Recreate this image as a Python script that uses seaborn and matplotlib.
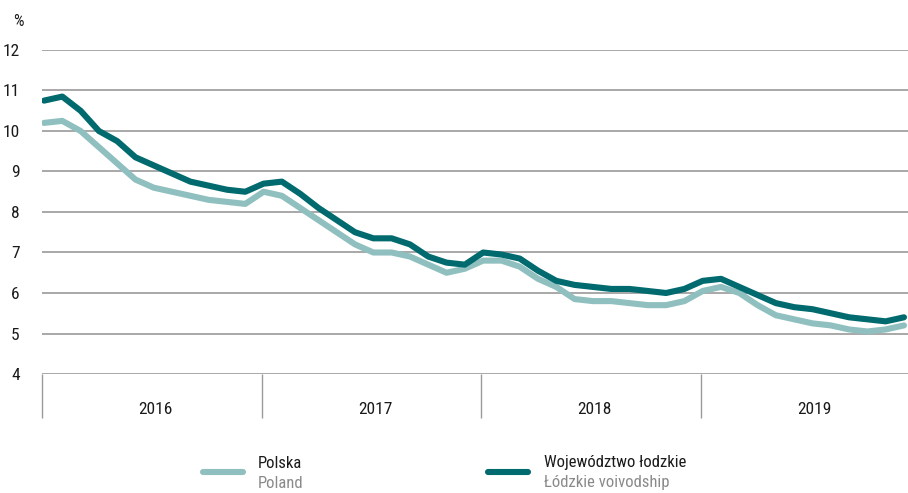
import numpy as np
import pandas as pd
import matplotlib
matplotlib.use("Agg")
import matplotlib.pyplot as plt
from matplotlib import font_manager
from matplotlib.lines import Line2D
import seaborn as sns

# Registered unemployment rate, monthly, 2016-2019 (%)
years = ["2016", "2017", "2018", "2019"]
polska = [10.2, 10.25, 10.0, 9.6, 9.2, 8.8, 8.6, 8.5, 8.4, 8.3, 8.25, 8.2,
          8.5, 8.4, 8.1, 7.8, 7.5, 7.2, 7.0, 7.0, 6.9, 6.7, 6.5, 6.6,
          6.8, 6.8, 6.65, 6.35, 6.15, 5.85, 5.8, 5.8, 5.75, 5.7, 5.7, 5.8,
          6.05, 6.15, 6.0, 5.7, 5.45, 5.35, 5.25, 5.2, 5.1, 5.05, 5.1, 5.2]
lodzkie = [10.75, 10.85, 10.5, 10.0, 9.75, 9.35, 9.15, 8.95, 8.75, 8.65, 8.55, 8.5,
           8.7, 8.75, 8.45, 8.1, 7.8, 7.5, 7.35, 7.35, 7.2, 6.9, 6.75, 6.7,
           7.0, 6.95, 6.85, 6.55, 6.3, 6.2, 6.15, 6.1, 6.1, 6.05, 6.0, 6.1,
           6.3, 6.35, 6.15, 5.95, 5.75, 5.65, 5.6, 5.5, 5.4, 5.35, 5.3, 5.4]
y_ticks = [4, 5, 6, 7, 8, 9, 10, 11, 12]

series_pl = ("Polska", "Poland")
series_ld = ("Województwo łodzkie", "Łódzkie voivodship")
colors = {series_pl[0]: "#8fc0bf", series_ld[0]: "#006a6e"}

months = np.arange(len(polska))
df = pd.concat([
    pd.DataFrame({"month": months, "rate": polska, "series": series_pl[0]}),
    pd.DataFrame({"month": months, "rate": lodzkie, "series": series_ld[0]}),
])

sns.set_theme(style="white")
avail = {f.name for f in font_manager.fontManager.ttflist}
family = next((f for f in ["Liberation Sans Narrow", "DejaVu Sans Condensed",
                           "Roboto Condensed", "Open Sans Condensed", "Noto Sans"]
               if f in avail), "DejaVu Sans")
plt.rcParams["font.family"] = [family, "DejaVu Sans"]

W, H = 908, 493
fig = plt.figure(figsize=(W / 100, H / 100), dpi=100)
ax = fig.add_axes([42 / W, 1 - 374 / H, (908 - 42) / W, (374 - 50) / H])

sns.lineplot(data=df, x="month", y="rate", hue="series", palette=colors,
             linewidth=4.4, ax=ax, legend=False, sort=True)
for ln in ax.lines:
    ln.set_solid_capstyle("round")
    ln.set_solid_joinstyle("round")

x0 = -0.11
ax.set_xlim(x0, 47.22)
ax.set_ylim(4, 12)
ax.set_yticks(y_ticks)
ax.set_yticklabels([str(v) for v in y_ticks])
ax.yaxis.grid(True, color="#9a9a9a", linewidth=1.2)
ax.xaxis.grid(False)
ax.set_axisbelow(True)
for s in ax.spines.values():
    s.set_visible(False)
ax.set_xlabel("")
ax.set_ylabel("")

# Year segments along the bottom: separators as minor ticks, labels centred
bounds = [x0 + 12 * k for k in range(len(years))]
centres = [b + 6.2 for b in bounds]
ax.set_xticks(bounds, minor=True)
ax.set_xticks(centres)
ax.set_xticklabels(years)
ax.tick_params(axis="x", which="minor", bottom=True, direction="out",
               length=32, width=1.0, color="#9a9a9a")
ax.tick_params(axis="x", which="major", bottom=True, length=0, pad=20,
               labelsize=12.5, labelcolor="#1a1a1a")
ax.tick_params(axis="y", length=0, pad=16, labelsize=12.5, labelcolor="#1a1a1a")

fig.text(18 / W, 1 - 21 / H, "%", fontsize=12, color="#1a1a1a",
         ha="center", va="center")

# Legend
ly = 1 - 472 / H
for (name, sub), (xa, xb, xt) in [(series_pl, (203, 243, 258)),
                                  (series_ld, (488, 528, 544))]:
    fig.add_artist(Line2D([xa / W, xb / W], [ly, ly], color=colors[name],
                          linewidth=4.4, solid_capstyle="round",
                          transform=fig.transFigure))
    fig.text(xt / W, 1 - 463 / H, name, fontsize=12, color="#1a1a1a",
             ha="left", va="center")
    fig.text(xt / W, 1 - 483 / H, sub, fontsize=12, color="#8a8a8a",
             ha="left", va="center")

fig.savefig("out.png", dpi=100)
